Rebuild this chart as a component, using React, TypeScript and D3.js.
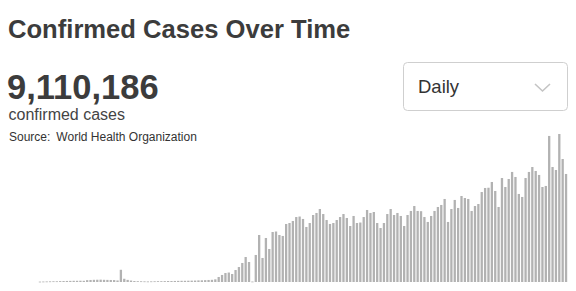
import React from "react";
import * as d3 from "d3";

const W = 576;
const H = 291;

const title = "Confirmed Cases Over Time";
const totalLabel = "9,110,186";
const subLabel = "confirmed cases";
const sourceLabel = "Source:";
const sourceName = "World Health Organization";
const selectLabel = "Daily";

// Daily confirmed cases (oldest first)
const earlyCases = [
  500, 600, 700, 800, 900, 900, 1100, 1200, 1300, 1400, 1500, 1500, 1600, 1500,
  2300, 2500, 2700, 2800, 2900, 2700, 2600, 2500, 2400, 1900, 15100, 4000, 2600,
  1800, 1200, 1000, 900, 800, 700, 800, 900, 1000, 1000, 1100, 1200, 1200, 1300,
  1400, 1500, 1500, 1600,
];
const midCases = [
  1700, 1800, 2000, 2100, 2300, 2500, 2700, 3300, 6200, 8700, 11100, 11700, 9900,
  14800, 18500, 23500, 30900, 24700, 600, 33400, 58100, 29700, 54400, 40800,
  61800, 62400, 58100, 56900, 71700, 72900, 75400, 80300, 80900, 77900, 68000,
  72900, 82800, 85300, 90200, 84000, 76600, 71700, 72900, 76600, 80300, 84000,
  79100, 69200, 81600, 72900, 73500, 80300, 89000, 85300, 86500, 72900,
];
const lateCases = [
  66700, 72900, 84000, 90200, 82800, 85300, 81600, 69200, 82800, 87800, 93900,
  87800, 87500, 80300, 74200, 81600, 87800, 92700, 95200, 102600, 74200, 90200,
  101400, 91500, 106300, 103800, 102600, 87800, 93900, 96400, 111200, 116200,
  116500, 123600, 112500, 92700, 128500, 117400, 127300, 136000, 129800, 108800,
  105100, 128500, 136000, 142100, 137200, 132300, 117400, 118700, 180500, 142100,
  138400, 182900, 152000, 133500,
];
const dailyCases = [...earlyCases, ...midCases, ...lateCases];
const dayIndex = dailyCases.map((_, i) => i);

const FONT = "'Liberation Sans', Arial, Helvetica, sans-serif";

export default function App() {
  const x = d3
    .scaleBand<number>()
    .domain(dayIndex)
    .range([38.3, 567.7])
    .paddingInner(0.32)
    .paddingOuter(0.15);
  const y = d3
    .scaleLinear()
    .domain([0, d3.max(dailyCases) as number])
    .range([282, 134]);

  return (
    <div style={{ position: "fixed", left: 0, top: 0 }}>
      <svg width={W} height={H} style={{ display: "block", background: "#fff" }}>
        <text x={8} y={38} fontFamily={FONT} fontWeight="bold" fontSize={25.6} fill="#3c3c3c">
          {title}
        </text>
        <text x={7} y={99} fontFamily={FONT} fontWeight="bold" fontSize={34.5} fill="#3c3c3c">
          {totalLabel}
        </text>
        <text x={8.5} y={120} fontFamily={FONT} fontSize={16} fill="#444">
          {subLabel}
        </text>
        <text x={9} y={141} fontFamily={FONT} fontSize={12} fill="#333">
          {sourceLabel}
          <tspan dx={6}>{sourceName}</tspan>
        </text>

        <rect x={403.5} y={62.5} width={164} height={48} rx={4} fill="#fff" stroke="#cfcfcf" />
        <text x={418} y={93} fontFamily={FONT} fontSize={18.5} fill="#333">
          {selectLabel}
        </text>
        <path d="M535,84 L542.5,91 L550,84" fill="none" stroke="#c4c4c4" strokeWidth={1.6} />

        <g fill="#b2b2b2">
          {dailyCases.map((v, i) => (
            <rect
              key={i}
              x={x(i)}
              width={x.bandwidth()}
              y={y(v)}
              height={Math.max(0.8, y(0) - y(v))}
            />
          ))}
        </g>
      </svg>
    </div>
  );
}
